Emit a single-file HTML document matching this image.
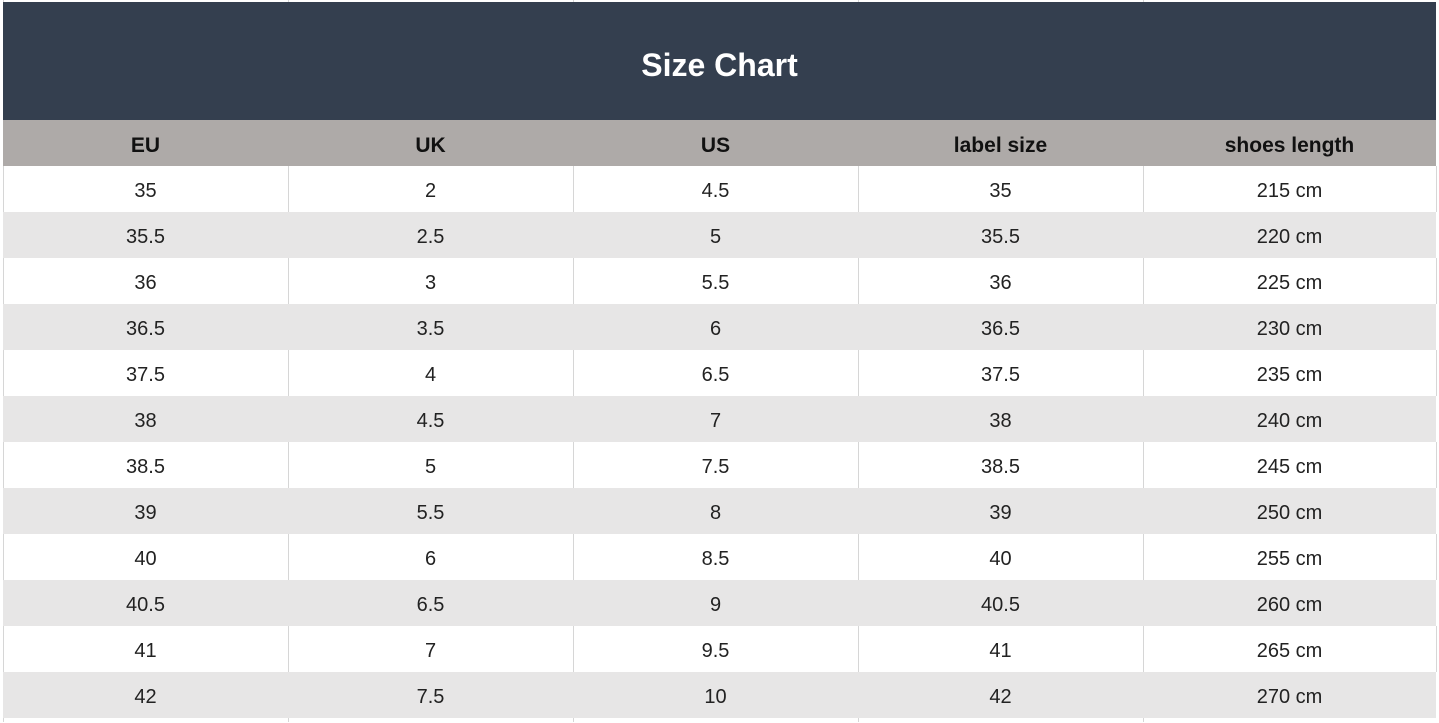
<!DOCTYPE html>
<html><head><meta charset="utf-8"><style>
body{margin:0;width:1439px;height:722px;background:#fff;position:relative;overflow:hidden;font-family:"Liberation Sans","DejaVu Sans",sans-serif}
.v{position:absolute;width:1px;background:#d6d6d6}
.banner{position:absolute;left:3px;top:2px;width:1433px;height:118px;background:#343f4f;color:#fff;font-weight:bold;font-size:32px;text-align:center;line-height:126px}
.hdr{position:absolute;left:3px;top:120px;width:1433px;height:46px;background:#aeaaa8}
.row{position:absolute;left:3px;width:1433px;height:46px}
.g{background:#e7e6e6}
.c{position:absolute;top:0;height:46px;line-height:51px;text-align:center;width:285px;font-size:20px;color:#222}
.hdr .c{font-weight:bold;font-size:21px;color:#111;line-height:52px}
</style></head><body>
<div class="v" style="left:288px;top:0;height:2px"></div>
<div class="v" style="left:573px;top:0;height:2px"></div>
<div class="v" style="left:858px;top:0;height:2px"></div>
<div class="v" style="left:1143px;top:0;height:2px"></div>
<div class="v" style="left:3px;top:0;height:722px"></div>
<div class="banner">Size Chart</div>
<div class="hdr">
<div class="c" style="left:0">EU</div><div class="c" style="left:285px">UK</div><div class="c" style="left:570px">US</div><div class="c" style="left:855px">label size</div><div class="c" style="left:1140px;width:293px">shoes length</div>
</div>
<div id="rows"></div>
<script>
var d=[["35","2","4.5","35","215"],["35.5","2.5","5","35.5","220"],["36","3","5.5","36","225"],["36.5","3.5","6","36.5","230"],["37.5","4","6.5","37.5","235"],["38","4.5","7","38","240"],["38.5","5","7.5","38.5","245"],["39","5.5","8","39","250"],["40","6","8.5","40","255"],["40.5","6.5","9","40.5","260"],["41","7","9.5","41","265"],["42","7.5","10","42","270"]];
var h="";
d.forEach(function(r,i){
 var y=166+i*46;
 h+='<div class="row'+(i%2?' g':'')+'" style="top:'+y+'px">';
 for(var j=0;j<5;j++){h+='<div class="c" style="left:'+(j*285)+'px'+(j==4?';width:293px':'')+'">'+r[j]+(j==4?' cm':'')+'</div>';}
 h+='</div>';
 if(i%2==0){[288,573,858,1143,1436].forEach(function(x){h+='<div class="v" style="left:'+x+'px;top:'+y+'px;height:46px"></div>';});}
});
[288,573,858,1143].forEach(function(x){h+='<div class="v" style="left:'+x+'px;top:718px;height:4px"></div>';});
document.getElementById("rows").innerHTML=h;
</script>
</body></html>
